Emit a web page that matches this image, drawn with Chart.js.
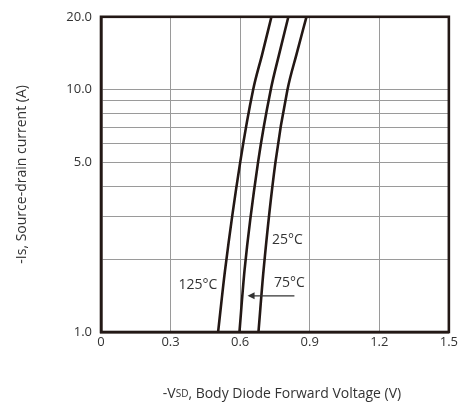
<!DOCTYPE html>
<html>
<head>
<meta charset="utf-8">
<script src="https://cdn.jsdelivr.net/npm/chart.js@4/dist/chart.umd.min.js"></script>
<style>
  html, body { margin: 0; padding: 0; background: #fff; }
  #wrap { width: 460px; height: 405px; }
</style>
</head>
<body>
<div id="wrap"><canvas id="vsd-chart"></canvas></div>
<script>
const currentA = [1, 1.8, 5, 10, 14, 20];
const vsd25 = [0.679, 0.701, 0.752, 0.804, 0.843, 0.886];
const vsd75 = [0.597, 0.619, 0.677, 0.732, 0.768, 0.808];
const vsd125 = [0.505, 0.535, 0.600, 0.656, 0.695, 0.735];
const xTicks = [0, 0.3, 0.6, 0.9, 1.2, 1.5];
const yTicks = [1, 2, 3, 4, 5, 6, 7, 8, 9, 10, 20];
const yLabeled = [1, 5, 10, 20];

const ink = '#231815';
const font = '"Open Sans", "Noto Sans", sans-serif';

const toPoints = (vs) => vs.map((v, i) => ({ x: v, y: currentA[i] }));

const curve = (label, vs) => ({
    label: label,
    data: toPoints(vs),
    borderColor: ink,
    borderWidth: 2.6,
    pointRadius: 0,
    showLine: true,
    cubicInterpolationMode: 'monotone',
    fill: false
});

// temperature tags + arrow, placed in data coords
const notes = [
    { text: '125°C', x: 0.418, y: 1.56 },
    { text: '25°C', x: 0.804, y: 2.39 },
    { text: '75°C', x: 0.812, y: 1.59 }
];
const arrow = { from: 0.834, to: 0.632, y: 1.41 };

const textPlugin = {
    id: 'textPlugin',
    afterDatasetsDraw(chart) {
        const { ctx, scales: { x, y }, chartArea } = chart;
        ctx.save();
        ctx.fillStyle = '#333';
        ctx.font = '14px ' + font;
        ctx.textAlign = 'center';
        ctx.textBaseline = 'middle';
        notes.forEach(n => ctx.fillText(n.text, x.getPixelForValue(n.x), y.getPixelForValue(n.y)));

        const ay = y.getPixelForValue(arrow.y);
        const x1 = x.getPixelForValue(arrow.from);
        const x2 = x.getPixelForValue(arrow.to);
        ctx.strokeStyle = '#333';
        ctx.lineWidth = 1.2;
        ctx.beginPath();
        ctx.moveTo(x1, ay);
        ctx.lineTo(x2 + 2, ay);
        ctx.stroke();
        ctx.beginPath();
        ctx.moveTo(x2, ay);
        ctx.lineTo(x2 + 7, ay - 3.5);
        ctx.lineTo(x2 + 7, ay + 3.5);
        ctx.closePath();
        ctx.fill();

        // x title with small "SD"
        ctx.textAlign = 'left';
        const parts = [['-V', '14px '], ['SD', '10px '], [', Body Diode Forward Voltage (V)', '14px ']];
        let w = 0;
        parts.forEach(p => { ctx.font = p[1] + font; w += ctx.measureText(p[0]).width; });
        let cx = 282 - w / 2;
        parts.forEach(p => {
            ctx.font = p[1] + font;
            ctx.fillText(p[0], cx, 394);
            cx += ctx.measureText(p[0]).width;
        });

        // y title
        ctx.translate(22, (chartArea.top + chartArea.bottom) / 2);
        ctx.rotate(-Math.PI / 2);
        ctx.textAlign = 'center';
        ctx.font = '14px ' + font;
        ctx.fillText('-Is, Source-drain current (A)', 0, 0);
        ctx.restore();
    }
};

new Chart(document.getElementById('vsd-chart').getContext('2d'), {
    type: 'scatter',
    data: {
        datasets: [
            curve('25°C', vsd25),
            curve('75°C', vsd75),
            curve('125°C', vsd125)
        ]
    },
    options: {
        responsive: true,
        maintainAspectRatio: false,
        animation: false,
        layout: { padding: { top: 16, right: 8, left: 0, bottom: 0 } },
        plugins: {
            legend: { display: false },
            tooltip: { enabled: false }
        },
        scales: {
            x: {
                type: 'linear',
                min: 0,
                max: 1.5,
                afterBuildTicks: (s) => { s.ticks = xTicks.map(v => ({ value: v })); },
                afterFit: (s) => { s.height = 73; },
                ticks: {
                    color: '#333',
                    font: { family: font, size: 13 },
                    padding: 2,
                    maxRotation: 0,
                    callback: (v) => (v === 0 ? '0' : v.toFixed(1))
                },
                grid: { color: '#9a9a9a', lineWidth: 1, drawTicks: false },
                border: { color: ink, width: 2.6 }
            },
            y: {
                type: 'logarithmic',
                min: 1,
                max: 20,
                afterBuildTicks: (s) => { s.ticks = yTicks.map(v => ({ value: v })); },
                afterFit: (s) => { s.width = 101; },
                ticks: {
                    color: '#333',
                    font: { family: font, size: 13 },
                    padding: 9,
                    autoSkip: false,
                    callback: (v) => (yLabeled.includes(v) ? v.toFixed(1) : '')
                },
                grid: { color: '#9a9a9a', lineWidth: 1, drawTicks: false },
                border: { color: ink, width: 2.6 }
            }
        }
    },
    plugins: [textPlugin, {
        id: 'frame',
        afterDraw(chart) {
            const { ctx, chartArea: a } = chart;
            ctx.save();
            ctx.strokeStyle = ink;
            ctx.lineWidth = 2.6;
            ctx.strokeRect(a.left, a.top, a.right - a.left, a.bottom - a.top);
            ctx.restore();
        }
    }]
});
</script>
</body>
</html>
